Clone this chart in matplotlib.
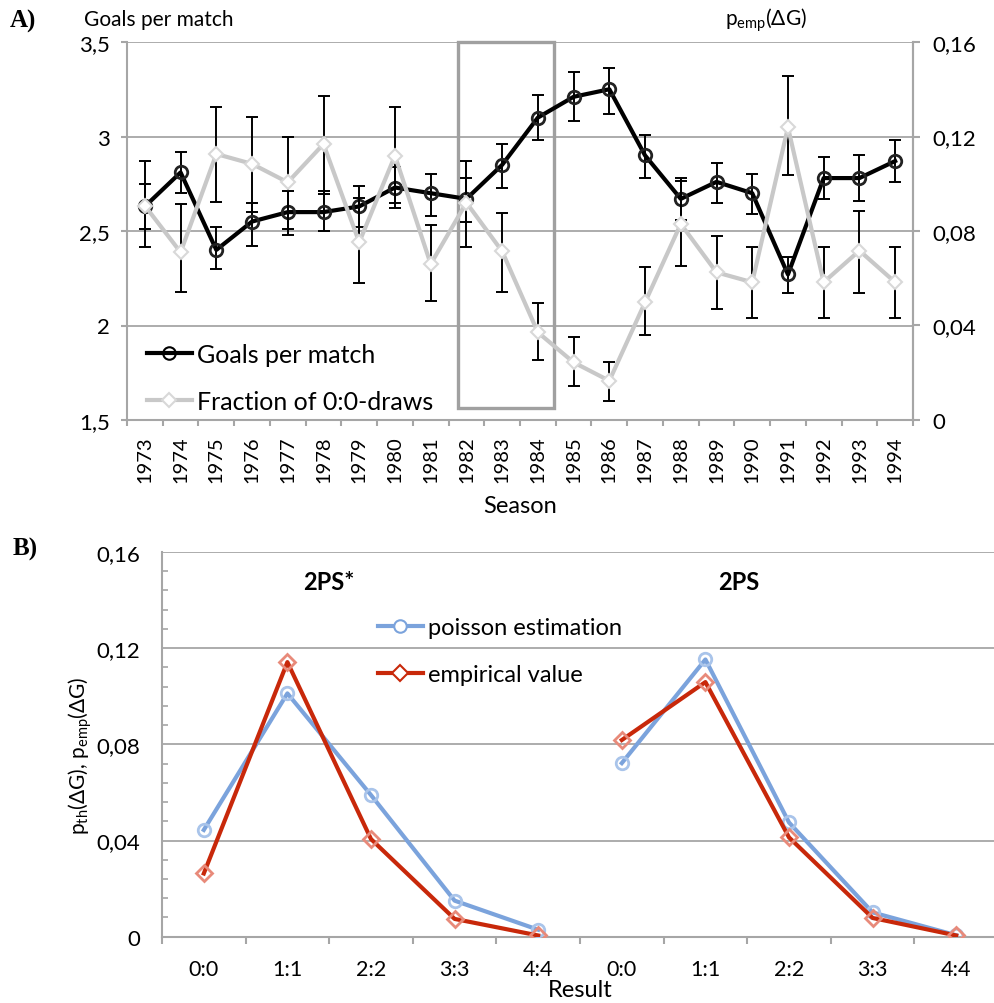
import numpy as np
import matplotlib.pyplot as plt
from matplotlib.patches import Rectangle
from matplotlib.lines import Line2D
from matplotlib.ticker import FixedLocator, MultipleLocator, FuncFormatter, NullFormatter

plt.rcParams['font.family'] = ['Lato', 'DejaVu Sans']
plt.rcParams['mathtext.fontset'] = 'custom'
plt.rcParams['mathtext.rm'] = 'Lato'
plt.rcParams['mathtext.it'] = 'Lato:italic'
plt.rcParams['mathtext.bf'] = 'Lato:bold'

# ---- panel A data ----
seasons = [str(y) for y in range(1973, 1995)]
goals = [2.63, 2.81, 2.40, 2.55, 2.60, 2.60, 2.63, 2.73, 2.70, 2.67, 2.85,
         3.10, 3.21, 3.25, 2.90, 2.67, 2.76, 2.70, 2.27, 2.78, 2.78, 2.87]
goals_low = [2.51, 2.70, 2.30, 2.42, 2.48, 2.50, 2.52, 2.62, 2.58, 2.55, 2.73,
             2.98, 3.08, 3.12, 2.78, 2.56, 2.65, 2.59, 2.17, 2.67, 2.66, 2.76]
goals_high = [2.75, 2.92, 2.52, 2.65, 2.71, 2.71, 2.74, 2.84, 2.80, 2.78, 2.96,
              3.22, 3.34, 3.36, 3.01, 2.78, 2.86, 2.80, 2.36, 2.89, 2.90, 2.98]
draws = [0.0907, 0.0710, 0.1126, 0.1084, 0.1006, 0.1168, 0.0752, 0.1119, 0.0660,
         0.0920, 0.0714, 0.0371, 0.0244, 0.0166, 0.0498, 0.0830, 0.0625, 0.0583,
         0.1239, 0.0583, 0.0717, 0.0583]
draws_low = [0.0731, 0.0540, 0.0921, 0.0879, 0.0808, 0.0957, 0.0579, 0.0919, 0.0505,
             0.0731, 0.0540, 0.0255, 0.0145, 0.0082, 0.0361, 0.0653, 0.0470, 0.0430,
             0.1037, 0.0430, 0.0538, 0.0430]
draws_high = [0.1098, 0.0914, 0.1323, 0.1284, 0.1199, 0.1373, 0.0940, 0.1323, 0.0825,
              0.1098, 0.0875, 0.0495, 0.0350, 0.0244, 0.0646, 0.1013, 0.0777, 0.0731,
              0.1457, 0.0731, 0.0886, 0.0731]

# ---- panel B data ----
results = ['0:0', '1:1', '2:2', '3:3', '4:4']
poisson_2ps_star = [0.0444, 0.1012, 0.0589, 0.0150, 0.0029]
empirical_2ps_star = [0.0263, 0.1142, 0.0406, 0.0074, 0.0005]
poisson_2ps = [0.0722, 0.1153, 0.0475, 0.0101, 0.0006]
empirical_2ps = [0.0818, 0.1059, 0.0413, 0.0078, 0.0005]

GRID = '#A6A6A6'
W, H = 995, 1004


def comma(v, pos=None):
    return f'{v:g}'.replace('.', ',')


fig = plt.figure(figsize=(W / 100, H / 100), dpi=100)

# ================= panel A =================
axA = fig.add_axes([127 / W, 1 - 421 / H, 786 / W, 378 / H])
axA2 = axA.twinx()
x = np.arange(len(seasons))

axA.set_xlim(-0.5, len(seasons) - 0.5)
axA.set_ylim(1.5, 3.5)
axA2.set_ylim(0, 0.16)
axA.yaxis.set_major_locator(MultipleLocator(0.5))
axA.yaxis.set_major_formatter(FuncFormatter(comma))
axA2.yaxis.set_major_locator(MultipleLocator(0.04))
axA2.yaxis.set_major_formatter(FuncFormatter(comma))
axA.grid(axis='y', color=GRID, lw=1.3)
axA.set_axisbelow(True)

for a in (axA, axA2):
    a.spines['top'].set_visible(False)
    for s in ('left', 'right', 'bottom'):
        a.spines[s].set_color(GRID)
        a.spines[s].set_linewidth(1.5)
axA2.spines['left'].set_visible(False)
axA2.spines['bottom'].set_visible(False)

axA.xaxis.set_major_locator(FixedLocator(np.arange(-0.5, len(seasons), 1.0)))
axA.xaxis.set_major_formatter(NullFormatter())
axA.set_xticks(x, seasons, minor=True)
axA.tick_params(axis='x', which='major', length=4, width=1.5, color=GRID)
axA.tick_params(axis='x', which='minor', length=0, pad=11, labelsize=14.5, labelrotation=90)
axA.tick_params(axis='y', length=4, width=1.5, color=GRID, labelsize=16, pad=8)
axA2.tick_params(axis='y', length=5, width=1.5, color=GRID, labelsize=16, pad=9)
axA.set_xlabel('Season', fontsize=17, labelpad=9)

axA.add_patch(Rectangle((8.77, 1.565), 11.45 - 8.77, 3.5 - 1.565, fill=False,
                        edgecolor='#A0A0A0', lw=2.4, zorder=1.5, clip_on=False))

axA.errorbar(x, goals, yerr=[np.subtract(goals, goals_low), np.subtract(goals_high, goals)],
             fmt='none', ecolor='black', elinewidth=1.4, capsize=4, capthick=1.4, zorder=2)
axA.plot(x, goals, color='black', lw=3, marker='o', ms=9, mfc='none', mec='#222222',
         mew=2, zorder=3)
axA2.errorbar(x, draws, yerr=[np.subtract(draws, draws_low), np.subtract(draws_high, draws)],
              fmt='none', ecolor='black', elinewidth=1.4, capsize=4, capthick=1.4, zorder=2)
axA2.plot(x, draws, color='#C8C8C8', lw=3, marker='D', ms=7.5, mfc='white', mec='#D8D8D8',
          mew=1.5, zorder=3)

handlesA = [Line2D([], [], color='black', lw=3, marker='o', ms=9, mfc='none', mec='black', mew=1.5),
            Line2D([], [], color='#C8C8C8', lw=3, marker='D', ms=7.5, mfc='white', mec='#D8D8D8', mew=1.5)]
axA2.legend(handlesA, ['Goals per match', 'Fraction of 0:0-draws'], loc='upper left',
            bbox_to_anchor=(147 / W, 1 - 344 / H), bbox_transform=fig.transFigure,
            frameon=False, fontsize=18, handlelength=1.8, handletextpad=0.2,
            labelspacing=0.95, borderpad=0, borderaxespad=0)

fig.text(84 / W, 1 - 20 / H, 'Goals per match', fontsize=15, va='center', ha='left')
fig.text(725 / W, 1 - 20 / H, r'$\mathregular{p_{emp}}$(ΔG)', fontsize=15, va='center', ha='left')
fig.text(10 / W, 1 - 21 / H, 'A)', fontsize=18, fontweight='bold', family='Liberation Serif',
         va='center', ha='left')

# ================= panel B =================
axB = fig.add_axes([162 / W, 1 - 937.7 / H, 836 / W, 384.7 / H])
n = len(results)
xs = np.arange(n)
xb = np.arange(n) + n
labelsB = results + results

axB.set_xlim(-0.5, 2 * n - 0.5)
axB.set_ylim(0, 0.16)
axB.yaxis.set_major_locator(MultipleLocator(0.04))
axB.yaxis.set_major_formatter(FuncFormatter(comma))
axB.yaxis.set_minor_locator(MultipleLocator(0.008))
axB.grid(axis='y', color=GRID, lw=1.3)
axB.set_axisbelow(True)
for s in ('top', 'right'):
    axB.spines[s].set_visible(False)
for s in ('left', 'bottom'):
    axB.spines[s].set_color(GRID)
    axB.spines[s].set_linewidth(1.5)
axB.tick_params(axis='y', which='major', length=0, labelsize=16, pad=16)
axB.tick_params(axis='y', which='minor', direction='in', length=4, width=1.2, color=GRID)

axB.xaxis.set_major_locator(FixedLocator(np.arange(-0.5, 2 * n, 1.0)))
axB.xaxis.set_major_formatter(NullFormatter())
axB.set_xticks(np.arange(2 * n), labelsB, minor=True)
axB.tick_params(axis='x', which='major', length=5, width=1.5, color=GRID)
axB.tick_params(axis='x', which='minor', length=0, pad=16, labelsize=15.5)
axB.set_xlabel('Result', fontsize=17, labelpad=0)

blue = '#7BA3DC'
red = '#C8280A'
for xx, pois, emp in ((xs, poisson_2ps_star, empirical_2ps_star), (xb, poisson_2ps, empirical_2ps)):
    axB.plot(xx, pois, color=blue, lw=3, marker='o', ms=9, mfc='none', mec='#A9C4EA', mew=2, zorder=3)
    axB.plot(xx, emp, color=red, lw=3, marker='D', ms=8, mfc='none', mec='#E88A7A', mew=2, zorder=4)

handlesB = [Line2D([], [], color=blue, lw=3, marker='o', ms=9, mfc='white', mec=blue, mew=1.5),
            Line2D([], [], color=red, lw=3, marker='D', ms=8, mfc='white', mec=red, mew=1.5)]
axB.legend(handlesB, ['poisson estimation', 'empirical value'], loc='upper left',
           bbox_to_anchor=(378 / W, 1 - 618 / H), bbox_transform=fig.transFigure,
           frameon=False, fontsize=17, handlelength=1.9, handletextpad=0.2,
           labelspacing=1.1, borderpad=0, borderaxespad=0)

axB.text(1.49, 0.1477, '2PS*', fontsize=17, fontweight='bold', ha='center', va='center')
axB.text(6.4, 0.1477, '2PS', fontsize=17, fontweight='bold', ha='center', va='center')

fig.text(80 / W, 1 - 756 / H, r'$\mathregular{p_{th}}$(ΔG), $\mathregular{p_{emp}}$(ΔG)',
         fontsize=15, rotation=90, va='center', ha='center')
fig.text(13 / W, 1 - 549 / H, 'B)', fontsize=18, fontweight='bold', family='Liberation Serif',
         va='center', ha='left')

fig.savefig('out.png', dpi=100)
